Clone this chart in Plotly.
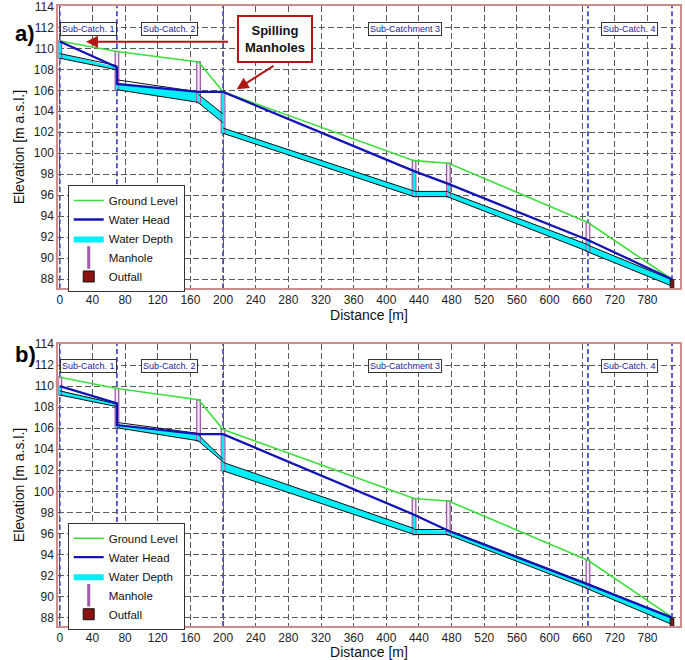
import plotly.graph_objects as go
from plotly.subplots import make_subplots

# ---------------- data ----------------
node_x = [0, 70, 170, 200, 434, 476, 647, 750]          # manholes + outfall (last)
sub_bounds = [0, 70, 200, 647, 750]
sub_names = ["Sub-Catch. 1", "Sub-Catch. 2", "Sub-Catchment 3", "Sub-Catch. 4"]

xtick_vals = list(range(0, 721, 40))
xtick_text = ["0", "40", "80", "120", "160", "200", "240", "280", "320", "360",
              "400", "440", "480", "520", "560", "600", "660", "720", "780"]
ytick_vals = list(range(88, 115, 2))

# panel a)
ground_a = [110.7, 109.7, 108.7, 105.85, 99.3, 99.05, 93.4, 88.0]
inv_up_a = [109.05, 106.05, 104.8, 101.9, 95.87, 95.82, 90.6]
inv_dn_a = [107.95, 104.85, 102.9, 95.87, 95.87, 90.65, 87.35]
crown_up_a = [109.5, 107.0, 105.6, 102.4, 96.37, 96.3, 91.25]
crown_dn_a = [108.35, 105.85, 103.75, 96.4, 96.37, 91.3, 87.95]
head_up_a = [110.65, 106.6, 105.85, 105.85, 98.3, 97.08, 91.74]
head_dn_a = [108.2, 105.85, 105.85, 98.3, 97.08, 91.74, 88.0]
outfall_a = [87.15, 87.95]

# panel b)
ground_b = [110.85, 109.78, 108.7, 105.88, 99.32, 99.08, 93.45, 88.05]
inv_up_b = [109.15, 106.04, 104.77, 101.95, 95.89, 95.85, 90.72]
inv_dn_b = [108.05, 104.8, 102.8, 95.9, 95.89, 90.75, 87.35]
crown_up_b = [109.55, 106.55, 105.35, 102.75, 96.37, 96.3, 91.22]
crown_dn_b = [108.3, 105.5, 103.06, 96.47, 96.37, 91.22, 87.95]
head_up_b = [110.0, 106.3, 105.44, 105.44, 97.78, 96.25, 91.15]
head_dn_b = [108.35, 105.44, 105.44, 97.78, 96.25, 91.15, 88.0]
outfall_b = [87.17, 87.92]

# ---------------- styles ----------------
FONT = "Arial, Liberation Sans, sans-serif"
C_GROUND = "#3cdf3c"
C_HEAD = "#1414b4"
C_WATER = "#00eef8"
C_MH = "#a05aaa"
C_MH_FILL = "#f3e8f5"
C_OUT = "#8c1212"
C_SUB = "#2a2ad0"
C_GRID = "#5a5a5a"
C_BORDER = "#cc8c8c"
MH_HW = 2.2

fig = make_subplots(rows=2, cols=1, vertical_spacing=0.0905)


def add_panel(row, ground, inv_up, inv_dn, crown_up, crown_dn, head_up, head_dn, outfall, legend):
    n = len(inv_up)
    # water depth in conduits
    wx, wy = [], []
    for i in range(n):
        x0, x1 = node_x[i], node_x[i + 1]
        t0 = min(head_up[i], crown_up[i])
        t1 = min(head_dn[i], crown_dn[i])
        wx += [x0, x1, x1, x0, x0, None]
        wy += [inv_up[i], inv_dn[i], t1, t0, inv_up[i], None]
    fig.add_trace(go.Scatter(x=wx, y=wy, mode="lines", fill="toself", fillcolor=C_WATER,
                             line=dict(color=C_WATER, width=0), name="Water Depth",
                             legend=legend, legendrank=3, hoverinfo="skip"), row=row, col=1)
    # manholes body
    mx, my, cx, cy = [], [], [], []
    for i in range(n):
        bot = inv_up[i] if i == 0 else min(inv_up[i], inv_dn[i - 1])
        top = ground[i]
        x = node_x[i]
        mx += [x - MH_HW, x + MH_HW, x + MH_HW, x - MH_HW, x - MH_HW, None]
        my += [bot, bot, top, top, bot, None]
        h = head_up[i]
        cx += [x - MH_HW + 0.7, x + MH_HW - 0.7, x + MH_HW - 0.7, x - MH_HW + 0.7, x - MH_HW + 0.7, None]
        cy += [bot, bot, h, h, bot, None]
    fig.add_trace(go.Scatter(x=mx, y=my, mode="lines", fill="toself", fillcolor=C_MH_FILL,
                             line=dict(color=C_MH, width=1.3), showlegend=False,
                             hoverinfo="skip"), row=row, col=1)
    fig.add_trace(go.Scatter(x=cx, y=cy, mode="lines", fill="toself", fillcolor=C_WATER,
                             line=dict(color=C_WATER, width=0), showlegend=False,
                             hoverinfo="skip"), row=row, col=1)
    # pipe outlines
    px_, py_ = [], []
    for i in range(n):
        x0, x1 = node_x[i], node_x[i + 1]
        px_ += [x0, x1, None, x0, x1, None]
        py_ += [inv_up[i], inv_dn[i], None, crown_up[i], crown_dn[i], None]
    fig.add_trace(go.Scatter(x=px_, y=py_, mode="lines", line=dict(color="#111111", width=1),
                             showlegend=False, hoverinfo="skip"), row=row, col=1)
    # ground
    fig.add_trace(go.Scatter(x=node_x, y=ground, mode="lines", line=dict(color=C_GROUND, width=1.6),
                             name="Ground Level", legend=legend, legendrank=1), row=row, col=1)
    # water head
    hx, hy = [], []
    for i in range(n):
        hx += [node_x[i], node_x[i + 1]]
        hy += [head_up[i], head_dn[i]]
    fig.add_trace(go.Scatter(x=hx, y=hy, mode="lines", line=dict(color=C_HEAD, width=2.3),
                             name="Water Head", legend=legend, legendrank=2), row=row, col=1)
    # outfall
    xo = node_x[-1]
    fig.add_trace(go.Scatter(x=[xo - MH_HW, xo + MH_HW, xo + MH_HW, xo - MH_HW, xo - MH_HW],
                             y=[outfall[0], outfall[0], outfall[1], outfall[1], outfall[0]],
                             mode="lines", fill="toself", fillcolor=C_OUT,
                             line=dict(color="#111111", width=1), showlegend=False,
                             hoverinfo="skip"), row=row, col=1)
    # legend-only items
    fig.add_trace(go.Scatter(x=[None], y=[None], mode="markers", name="Manhole",
                             marker=dict(symbol="line-ns", size=18, line=dict(color=C_MH, width=3)),
                             legend=legend, legendrank=4), row=row, col=1)
    fig.add_trace(go.Scatter(x=[None], y=[None], mode="markers", name="Outfall",
                             marker=dict(symbol="square", size=11, color=C_OUT,
                                         line=dict(color="#111111", width=1)),
                             legend=legend, legendrank=5), row=row, col=1)
    # sub-catchment boundaries
    for b in sub_bounds:
        fig.add_vline(x=b, line=dict(color=C_SUB, width=1.5, dash="5px,3px"), layer="below",
                      row=row, col=1)
    # sub-catchment labels
    for k, name in enumerate(sub_names):
        xc = (sub_bounds[k] + sub_bounds[k + 1]) / 2
        fig.add_annotation(x=xc, y=111.88, xref=f"x{'' if row == 1 else row}",
                           yref=f"y{'' if row == 1 else row}", text=name, showarrow=False,
                           font=dict(family=FONT, size=9, color="#1a1a9a"),
                           bgcolor="white", bordercolor="#333333", borderwidth=1, borderpad=1)


add_panel(1, ground_a, inv_up_a, inv_dn_a, crown_up_a, crown_dn_a, head_up_a, head_dn_a,
          outfall_a, "legend")
add_panel(2, ground_b, inv_up_b, inv_dn_b, crown_up_b, crown_dn_b, head_up_b, head_dn_b,
          outfall_b, "legend2")

# Spilling manholes annotation (panel a)
fig.add_annotation(x=264, y=110.84, xref="x", yref="y", text="<b>Spilling<br>Manholes</b>",
                   showarrow=False, font=dict(family=FONT, size=13, color="#111111"),
                   bgcolor="white", bordercolor="#b01818", borderwidth=2, borderpad=6)
fig.add_annotation(x=32, y=110.63, ax=208, ay=110.63, xref="x", yref="y", axref="x", ayref="y",
                   text="", showarrow=True, arrowhead=2, arrowsize=1.2, arrowwidth=2,
                   arrowcolor="#b01818")
fig.add_annotation(x=216.7, y=106.1, ax=263.6, ay=108.41, xref="x", yref="y", axref="x", ayref="y",
                   text="", showarrow=True, arrowhead=2, arrowsize=1.2, arrowwidth=2,
                   arrowcolor="#b01818")

# panel letters
fig.add_annotation(x=-0.072, y=0.979, xref="paper", yref="paper", text="<b>a)</b>", showarrow=False,
                   font=dict(family=FONT, size=22, color="black"))
fig.add_annotation(x=-0.072, y=0.4387, xref="paper", yref="paper", text="<b>b)</b>", showarrow=False,
                   font=dict(family=FONT, size=22, color="black"))

axis_common = dict(showline=True, mirror=True, linecolor=C_BORDER, linewidth=1.5,
                   showgrid=True, gridcolor=C_GRID, gridwidth=1, griddash="6px,3px",
                   zeroline=False, ticks="", automargin=False, ticklabeloverflow="allow",
                   tickfont=dict(family=FONT, size=12, color="#222222"))

for r in (1, 2):
    fig.update_xaxes(range=[-2.2, 759.8], tickmode="array", tickvals=xtick_vals, ticktext=xtick_text,
                     title=dict(text="Distance [m]", font=dict(family=FONT, size=14, color="#111111"),
                                standoff=0),
                     row=r, col=1, **axis_common)
fig.update_yaxes(range=[87.14, 114.03], row=1, col=1)
fig.update_yaxes(range=[87.2, 114.0], row=2, col=1)
fig.update_yaxes(tickmode="array", tickvals=ytick_vals,
                 title=dict(text="Elevation [m a.s.l.]", font=dict(family=FONT, size=14, color="#111111"),
                            standoff=6),
                 **axis_common)

legend_style = dict(xanchor="left", yanchor="top", bgcolor="white",
                    bordercolor="#333333", borderwidth=1, font=dict(family=FONT, size=11.5),
                    tracegroupgap=0, itemwidth=30)
fig.update_layout(
    width=685, height=660,
    margin=dict(l=58, r=5, t=6, b=34, autoexpand=False),
    plot_bgcolor="white", paper_bgcolor="white",
    font=dict(family=FONT, size=12, color="#111111"),
    legend=dict(x=0.0156, y=0.7113, **legend_style),
    legend2=dict(x=0.0156, y=0.1666, **legend_style),
)
fig.layout.yaxis.domain = [0.5447, 1.0]
fig.layout.yaxis2.domain = [0.0, 0.4548]

fig.write_html("out.html", config={"displayModeBar": False},
               post_script="document.body.style.margin='0px';")
